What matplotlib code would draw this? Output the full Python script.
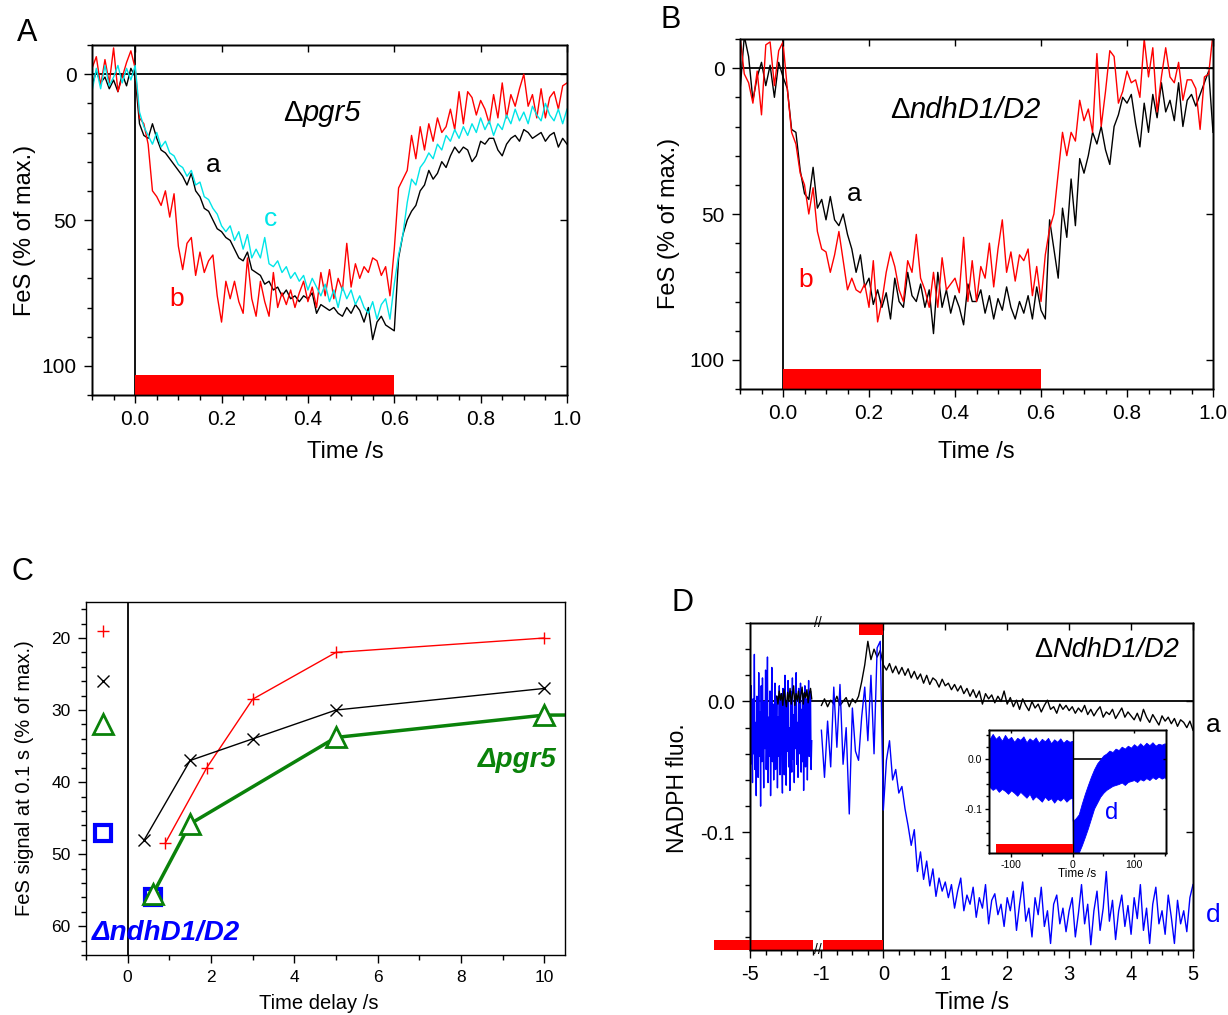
import numpy as np
import matplotlib
matplotlib.use('Agg')
import matplotlib.pyplot as plt
import matplotlib.transforms as mtransforms
from matplotlib.ticker import MultipleLocator, FixedLocator, NullLocator, FormatStrFormatter

plt.rcParams['font.family'] = ['Liberation Sans', 'DejaVu Sans']
plt.rcParams['axes.unicode_minus'] = False
plt.rcParams['axes.linewidth'] = 1.0

# ---------------- A / B : FeS kinetics, 10 ms samples from -0.1 s to 1.0 s
t_fes = np.round(np.linspace(-0.1, 1.0, 111), 2)

pgr5_a = [4, -1, 3, 1, 5, 2, 6, 0, 4, -2,
          1, 17, 21, 22, 17, 22, 26, 27, 29, 31,
          33, 35, 38, 34, 40, 42, 46, 47, 50, 53,
          54, 56, 57, 60, 63, 64, 61, 67, 68, 69,
          72, 71, 74, 73, 76, 74, 77, 76, 78, 76,
          77, 75, 82, 79, 80, 81, 80, 82, 83, 80,
          82, 79, 81, 85, 80, 91, 85, 83, 86, 87,
          88, 63, 55, 50, 47, 45, 40, 38, 33, 36,
          34, 30, 32, 28, 25, 27, 25, 26, 30, 28,
          23, 24, 22, 22, 26, 28, 24, 22, 21, 23,
          19, 20, 22, 21, 20, 23, 21, 20, 25, 22,
          24]
pgr5_b = [-2, -6, 4, -5, 3, -9, 6, 1, -4, -8,
          -2, 15, 17, 24, 40, 42, 45, 40, 49, 41,
          59, 67, 58, 56, 69, 61, 68, 64, 62, 76,
          85, 71, 77, 71, 78, 82, 63, 77, 83, 71,
          78, 83, 68, 80, 75, 79, 74, 80, 75, 71,
          78, 73, 80, 68, 76, 67, 77, 70, 74, 58,
          73, 65, 70, 66, 68, 63, 64, 69, 66, 76,
          60, 39, 36, 33, 21, 29, 18, 26, 17, 23,
          15, 20, 18, 12, 19, 6, 17, 6, 8, 14,
          9, 12, 17, 7, 15, 3, 15, 7, 11, 5,
          0, 11, 7, 15, 5, 15, 8, 6, 12, 4,
          3]
pgr5_c = [6, -2, 5, -3, 4, 1, -3, 3, -2, 2,
          -3, 13, 18, 21, 24, 20, 25, 23, 27, 28,
          31, 32, 35, 33, 38, 37, 42, 43, 46, 48,
          52, 54, 52, 57, 54, 60, 55, 63, 60, 63,
          56, 65, 66, 64, 68, 66, 70, 68, 71, 69,
          74, 70, 73, 76, 72, 78, 74, 80, 73, 77,
          74, 79, 76, 80, 82, 78, 84, 79, 77, 84,
          72, 62, 55, 44, 36, 38, 32, 30, 27, 29,
          24, 26, 21, 23, 19, 22, 18, 21, 17, 20,
          15, 19, 16, 21, 17, 19, 14, 17, 12, 16,
          13, 17, 11, 14, 16, 10, 14, 16, 12, 17,
          12]
ndh_a = [8, -11, -4, 11, 3, -2, 6, -1, 10, -2,
         3, 7, 21, 22, 35, 43, 45, 34, 48, 45,
         52, 44, 52, 54, 50, 57, 62, 70, 64, 75,
         72, 81, 76, 82, 77, 86, 72, 80, 82, 70,
         78, 80, 74, 82, 76, 91, 70, 82, 76, 84,
         78, 82, 88, 74, 80, 80, 76, 84, 78, 86,
         79, 83, 75, 82, 86, 80, 84, 78, 86, 75,
         83, 86, 52, 62, 72, 48, 58, 38, 54, 31,
         36, 30, 22, 26, 20, 28, 33, 20, 16, 10,
         12, 9, 19, 27, 12, 22, 9, 17, 5, 15,
         11, 18, 5, 20, 11, 9, 13, 9, 5, 1,
         22]
ndh_b = [-11, 2, 5, 12, 1, 16, -8, -9, 6, -6,
         -9, 7, 22, 26, 36, 40, 50, 41, 56, 62,
         63, 70, 64, 56, 66, 76, 72, 76, 77, 74,
         82, 66, 87, 80, 70, 63, 68, 76, 80, 66,
         70, 57, 72, 76, 82, 70, 82, 65, 76, 74,
         72, 77, 58, 80, 66, 80, 68, 72, 60, 75,
         62, 52, 70, 63, 73, 64, 66, 62, 78, 68,
         80, 64, 55, 50, 36, 22, 30, 22, 25, 11,
         18, 14, 22, -5, 20, 8, -6, -4, 12, 8,
         1, 5, 4, 10, -10, 3, -7, 15, 3, -7,
         3, 5, -2, 11, 4, 4, 7, 21, 3, 2,
         -12]
light_fes = (0.0, 0.6)
bar_fes = (103, 110)

# ---------------- C : FeS at 0.1 s vs. dark delay
delay_red = [0.9, 1.9, 3, 5, 10]
fes_red = [48.5, 38, 28.5, 22, 20]
delay_black = [0.4, 1.5, 3, 5, 10]
fes_black = [48, 37, 34, 30, 27]
delay_green = [0.6, 1.5, 5, 10, 20]
fes_green = [55.6, 45.8, 33.8, 30.7, 30.5]
delay_blue = [0.6]
fes_blue = [56]
dark_x = -0.6
dark_red, dark_black, dark_green, dark_blue = 19, 26, 32, 47

# ---------------- D : NADPH fluorescence
tL_d = np.linspace(-5.0, -1.08, 100)
nadph_d_left = [-0.010, -0.048, 0.012, -0.030, -0.062, 0.002, -0.040, 0.036, -0.052, -0.016,
                -0.072, 0.004, -0.028, -0.058, 0.022, -0.042, -0.008, -0.080, 0.012, -0.046,
                0.018, -0.026, -0.066, 0.000, -0.036, 0.024, -0.052, -0.020, 0.034, -0.062,
                -0.012, -0.042, 0.008, -0.072, -0.022, 0.026, -0.046, -0.002, -0.060, -0.016,
                0.014, -0.052, -0.026, 0.004, -0.066, -0.012, -0.042, 0.012, -0.056, -0.032,
                0.006, -0.044, -0.070, 0.010, -0.034, -0.056, 0.020, -0.024, -0.064, -0.004,
                -0.038, 0.016, -0.050, -0.020, -0.068, 0.008, -0.030, -0.054, 0.018, -0.044,
                -0.010, -0.062, 0.004, -0.036, 0.022, -0.048, -0.016, -0.058, 0.010, -0.040,
                -0.024, 0.014, -0.054, -0.006, -0.046, 0.006, -0.068, -0.018, 0.012, -0.050,
                -0.028, 0.002, -0.060, -0.014, 0.016, -0.042, -0.022, 0.008, -0.052, -0.030]
tL_a = np.linspace(-3.3, -1.08, 30)
nadph_a_left = [0.004, -0.002, 0.008, 0.001, 0.006, -0.003, 0.009, 0.002, -0.004, 0.007,
                0.000, 0.010, -0.002, 0.005, 0.012, -0.003, 0.006, 0.001, 0.008, -0.001,
                0.005, 0.011, -0.002, 0.007, 0.003, 0.009, -0.001, 0.006, 0.010, 0.002]
tR = np.round(np.linspace(-1.0, 5.0, 121), 2)
nadph_a = [-0.003, 0.002, -0.004, 0.001, -0.002, 0.004, -0.003, 0.000, 0.003, -0.004, 0.002, -0.001,
           0.004, 0.015, 0.028, 0.046, 0.032, 0.040, 0.034, 0.039,
           0.028,
           0.024, 0.029, 0.022, 0.027, 0.021, 0.026, 0.020, 0.025, 0.018, 0.023,
           0.017, 0.021, 0.014, 0.020, 0.013, 0.018, 0.016, 0.011, 0.017, 0.012,
           0.014, 0.009, 0.013, 0.008, 0.012, 0.006, 0.010, 0.004, 0.009, 0.003,
           0.008, -0.002, 0.006, 0.002, 0.005, -0.001, 0.004, 0.000, 0.008, -0.002,
           0.003, -0.004, 0.001, -0.006, 0.002, -0.003, -0.007, 0.000, -0.005, -0.002,
           -0.008, -0.003, 0.001, -0.006, -0.004, -0.009, -0.002, -0.006, -0.003, -0.007,
           -0.004, -0.009, -0.005, -0.008, -0.003, -0.010, -0.006, -0.011, -0.007, -0.004,
           -0.012, -0.008, -0.010, -0.006, -0.013, -0.009, -0.005, -0.012, -0.008, -0.011,
           -0.014, -0.009, -0.015, -0.006, -0.012, -0.016, -0.010, -0.014, -0.018, -0.011,
           -0.015, -0.012, -0.017, -0.013, -0.019, -0.014, -0.016, -0.020, -0.015, -0.022]
nadph_d = [-0.022, -0.058, -0.015, -0.050, 0.011, -0.035, 0.013, -0.048, -0.020, -0.086, -0.005, -0.038,
           -0.045, -0.012, 0.011, -0.030, 0.020, -0.040, 0.041, 0.046,
           -0.083,
           -0.045, -0.030, -0.060, -0.052, -0.070, -0.065, -0.082, -0.095, -0.110, -0.098,
           -0.130, -0.115, -0.136, -0.122, -0.141, -0.128, -0.149, -0.135, -0.145, -0.138,
           -0.150, -0.140, -0.158, -0.145, -0.135, -0.160, -0.148, -0.155, -0.142, -0.165,
           -0.150, -0.158, -0.140, -0.170, -0.152, -0.147, -0.163, -0.155, -0.172, -0.150,
           -0.160, -0.145, -0.175, -0.155, -0.138, -0.168, -0.158, -0.180, -0.150, -0.163,
           -0.142, -0.172, -0.160, -0.185, -0.155, -0.148, -0.170, -0.158, -0.176, -0.160,
           -0.150, -0.180, -0.162, -0.140, -0.170, -0.155, -0.186, -0.160, -0.145, -0.175,
           -0.158, -0.130, -0.168, -0.152, -0.182, -0.160, -0.148, -0.172, -0.156, -0.178,
           -0.150, -0.166, -0.140, -0.175, -0.158, -0.185, -0.155, -0.142, -0.170, -0.160,
           -0.178, -0.148, -0.165, -0.185, -0.152, -0.170, -0.160, -0.176, -0.150, -0.140]
dark_bars_d = [(-7.3, -1.001), (-0.97, 0.0)]
light_bar_d = (-0.4, 0.0)

# inset: long record, drawn as the min/max envelope of the trace
t_long = [-136] + list(range(-130, 0, 5)) + [-0.3, 0.3] + list(range(5, 151, 5)) + [152]
d_long_hi = [0.040, 0.052, 0.042, 0.048, 0.038, 0.050, 0.041, 0.046, 0.036, 0.044,
             0.040, 0.047, 0.035, 0.043, 0.038, 0.045, 0.034, 0.042, 0.037, 0.044,
             0.033, 0.041, 0.036, 0.043, 0.034, 0.040, 0.036, 0.038,
             -0.125, -0.120, -0.112, -0.090, -0.070, -0.052, -0.035, -0.020, -0.008, 0.000,
             0.008, 0.012, 0.018, 0.015, 0.022, 0.019, 0.026, 0.022, 0.028, 0.024,
             0.031, 0.026, 0.033, 0.027, 0.034, 0.029, 0.035, 0.028, 0.032, 0.030,
             0.033, 0.026]
d_long_lo = [-0.055, -0.062, -0.058, -0.066, -0.060, -0.064, -0.070, -0.063, -0.068, -0.074,
             -0.066, -0.072, -0.078, -0.070, -0.082, -0.075, -0.080, -0.086, -0.076, -0.083,
             -0.079, -0.088, -0.080, -0.084, -0.078, -0.086, -0.080, -0.078,
             -0.185, -0.192, -0.190, -0.175, -0.158, -0.140, -0.120, -0.100, -0.088, -0.076,
             -0.068, -0.062, -0.058, -0.054, -0.052, -0.050, -0.047, -0.052, -0.046, -0.044,
             -0.042, -0.046, -0.040, -0.043, -0.038, -0.042, -0.036, -0.040, -0.035, -0.039,
             -0.036, -0.040]
light_bar_long = (-124, 0)

RED = '#ff0000'
CYAN = '#00e5e8'
BLUE = '#0000ff'
GREEN = '#0a820a'

fig = plt.figure(figsize=(12.28, 10.15), dpi=100)
W, H = 1228, 1015


def px_axes(l, t, r, b):
    return fig.add_axes([l / W, 1 - b / H, (r - l) / W, (b - t) / H])


def style(ax, size, pad=5, major=6, minor=3.5):
    ax.tick_params(which='major', direction='out', length=major, width=1, pad=pad, labelsize=size)
    ax.tick_params(which='minor', direction='out', length=minor, width=1)


def mirror(ax, xt, yt, length=5, scale=None):
    top = ax.twiny()
    if scale is not None:
        top.set_xscale('function', functions=scale)
    top.set_xlim(ax.get_xlim())
    top.xaxis.set_major_locator(FixedLocator(xt))
    top.xaxis.set_minor_locator(NullLocator())
    top.tick_params(axis='x', direction='in', length=length, width=1, labeltop=False)
    right = ax.twinx()
    right.set_ylim(ax.get_ylim())
    right.yaxis.set_major_locator(FixedLocator(yt))
    right.yaxis.set_minor_locator(NullLocator())
    right.tick_params(axis='y', direction='in', length=length, width=1, labelright=False)


def labels(ax, xl, xpos, yl, ypos, size):
    ax.set_xlabel(xl, fontsize=size)
    ax.set_ylabel(yl, fontsize=size)
    ax.xaxis.set_label_coords(*xpos)
    ax.yaxis.set_label_coords(*ypos)
    ax.xaxis.label.set_va('center')
    ax.yaxis.label.set_va('center')


def delta_text(ax, x, y, rest, size):
    # upright delta followed by the italic strain name, on a common baseline
    d = ax.text(x, y, '\u0394', fontsize=size, ha='left', va='baseline')
    ax.annotate(rest, xy=(1, 0), xycoords=d, fontsize=size, fontstyle='italic',
                ha='left', va='bottom')


def fes_panel(ax, traces):
    for y, c in traces:
        ax.plot(t_fes, y, color=c, lw=1.0)
    ax.axhline(0, color='black', lw=1.3, zorder=1)
    ax.axvline(0, color='black', lw=1.3, zorder=1)
    ax.bar(light_fes[0], bar_fes[1] - bar_fes[0], width=light_fes[1] - light_fes[0],
           bottom=bar_fes[0], align='edge', color=RED, lw=0, zorder=3)
    ax.set_xlim(-0.1, 1.0)
    ax.set_ylim(110, -10)
    ax.set_xticks([0, 0.2, 0.4, 0.6, 0.8, 1.0])
    ax.xaxis.set_major_formatter(FormatStrFormatter('%.1f'))
    ax.xaxis.set_minor_locator(MultipleLocator(0.05))
    ax.set_yticks([0, 50, 100])
    ax.yaxis.set_minor_locator(MultipleLocator(10))
    style(ax, 15)
    mirror(ax, [0, 0.2, 0.4, 0.6, 0.8, 1.0], [0, 50, 100])


# ---- A
axA = px_axes(92, 45, 567, 395)
fes_panel(axA, [(pgr5_a, 'black'), (pgr5_b, RED), (pgr5_c, CYAN)])
delta_text(axA, 0.343, 16.2, 'pgr5', 21)
axA.text(0.181, 31, 'a', fontsize=19, color='black', ha='center', va='center')
axA.text(0.313, 49.5, 'c', fontsize=19, color=CYAN, ha='center', va='center')
axA.text(0.097, 77, 'b', fontsize=19, color=RED, ha='center', va='center')
labels(axA, 'Time /s', (0.533, -0.162), 'FeS (% of max.)', (-0.141, 0.47), 17)

# ---- B
axB = px_axes(740, 39, 1213, 389)
fes_panel(axB, [(ndh_a, 'black'), (ndh_b, RED)])
delta_text(axB, 0.25, 17.1, 'ndhD1/D2', 21)
axB.text(0.166, 43, 'a', fontsize=19, color='black', ha='center', va='center')
axB.text(0.052, 72.5, 'b', fontsize=19, color=RED, ha='center', va='center')
labels(axB, 'Time /s', (0.5, -0.179), 'FeS (% of max.)', (-0.150, 0.473), 17)

# ---- C
axC = px_axes(86, 602, 565, 955)
axC.axvline(0, color='black', lw=1.3, zorder=1)
axC.plot(delay_blue, fes_blue, ls='none', marker='s', ms=12, mfc='none', mec=BLUE, mew=3)
axC.plot(delay_red, fes_red, color=RED, lw=1, marker='+', ms=9, mew=1)
axC.plot(delay_black, fes_black, color='black', lw=1, marker='x', ms=8, mew=1)
axC.plot(delay_green, fes_green, color=GREEN, lw=2.5, marker='^', ms=14, mfc='white', mec=GREEN, mew=2)
axC.plot([dark_x], [dark_red], ls='none', marker='+', ms=9, mew=1, color=RED)
axC.plot([dark_x], [dark_black], ls='none', marker='x', ms=8, mew=1, color='black')
axC.plot([dark_x], [dark_green], ls='none', marker='^', ms=14, mfc='white', mec=GREEN, mew=2)
axC.plot([dark_x], [dark_blue], ls='none', marker='s', ms=12, mfc='none', mec=BLUE, mew=3)
axC.set_xlim(-1, 10.5)
axC.set_ylim(64, 15)
axC.set_xticks([0, 2, 4, 6, 8, 10])
axC.xaxis.set_minor_locator(MultipleLocator(1))
axC.set_yticks([20, 30, 40, 50, 60])
axC.yaxis.set_minor_locator(MultipleLocator(2))
style(axC, 12.5)
axC.text(10.3, 36.9, '\u0394pgr5', fontsize=20, color=GREEN, fontweight='bold',
         fontstyle='italic', ha='right', va='center')
axC.text(-0.85, 61, '\u0394ndhD1/D2', fontsize=20, color=BLUE, fontweight='bold',
         fontstyle='italic', ha='left', va='center')
labels(axC, 'Time delay /s', (0.486, -0.136), 'FeS signal at 0.1 s (% of max.)', (-0.129, 0.5), 14.5)

# ---- D : broken time axis (-5..-1 compressed, then linear)
GAP, K = 0.1356, 0.2543


def fwd(t):
    t = np.asarray(t, dtype=float)
    return np.where(t >= -1, t, -1 - GAP + (t + 1) * K)


def inv(u):
    u = np.asarray(u, dtype=float)
    return np.where(u >= -1, u, np.where(u <= -1 - GAP, (u + 1 + GAP) / K - 1, -1.0))


axD = px_axes(750, 623, 1193, 950)
axD.set_xscale('function', functions=(fwd, inv))
axD.axhline(0, color='black', lw=1.3, zorder=1)
axD.axvline(0, color='black', lw=1.3, zorder=1)
axD.plot(tL_d, nadph_d_left, color=BLUE, lw=1.0)
axD.plot(tL_a, nadph_a_left, color='black', lw=1.0)
axD.plot(tR, nadph_a, color='black', lw=1.0)
axD.plot(tR, nadph_d, color=BLUE, lw=1.0)
for x0, x1 in dark_bars_d:
    axD.bar(x0, 0.008, width=x1 - x0, bottom=-0.19, align='edge', color=RED, lw=0,
            clip_on=False, zorder=3)
axD.bar(light_bar_d[0], 0.0088, width=light_bar_d[1] - light_bar_d[0], bottom=0.0508,
        align='edge', color=RED, lw=0, zorder=3)
axD.set_xlim(-5, 5)
axD.set_ylim(-0.19, 0.06)
axD.set_xticks([-5, -1, 0, 1, 2, 3, 4, 5])
axD.set_xticklabels(['-5', '-1', '0', '1', '2', '3', '4', '5'])
minD = [-4, -3, -2, -1.001] + [v for v in np.arange(-0.75, 5.0, 0.25) if v % 1 != 0]
axD.xaxis.set_minor_locator(FixedLocator(minD))
axD.set_yticks([-0.1, 0.0])
axD.yaxis.set_major_formatter(FormatStrFormatter('%.1f'))
axD.yaxis.set_minor_locator(MultipleLocator(0.02))
style(axD, 14.5)
mirror(axD, [0, 1, 2, 3, 4, 5], [0.0, -0.1], scale=(fwd, inv))
brk = mtransforms.offset_copy(axD.get_xaxis_transform(), fig=fig, x=-4, y=0, units='dots')
for yy in (0.0, 1.0):
    axD.text(-1.0, yy, '//', transform=brk, ha='center', va='center', fontsize=10, clip_on=False)
delta_text(axD, 2.44, 0.0343, 'NdhD1/D2', 19.5)
axD.text(5.33, -0.018, 'a', fontsize=19, color='black', ha='center', va='center')
axD.text(5.33, -0.163, 'd', fontsize=19, color=BLUE, ha='center', va='center')
labels(axD, 'Time /s', (0.501, -0.162), 'NADPH fluo.', (-0.163, 0.495), 16.5)

# ---- D inset
axI = px_axes(989, 730, 1166, 852.7)
axI.hlines(0, 0, t_long[-1], color='black', lw=1.2, zorder=1)
axI.fill_between(t_long, d_long_lo, d_long_hi, color=BLUE, lw=0.6, zorder=2)
axI.axvline(0, color='black', lw=1.0, zorder=3)
axI.bar(light_bar_long[0], 0.018, width=light_bar_long[1] - light_bar_long[0], bottom=-0.19,
        align='edge', color=RED, lw=0, zorder=4)
axI.set_xlim(-136, 152)
axI.set_ylim(-0.19, 0.06)
axI.set_xticks([-100, 0, 100])
axI.xaxis.set_minor_locator(MultipleLocator(50))
axI.set_yticks([-0.1, 0.0])
axI.yaxis.set_major_formatter(FormatStrFormatter('%.1f'))
axI.yaxis.set_minor_locator(MultipleLocator(0.025))
style(axI, 7.5, pad=2, major=3, minor=2)
mirror(axI, [-100, 0, 100], [0.0, -0.1], length=2.5)
axI.text(64, -0.109, 'd', fontsize=17, color=BLUE, ha='center', va='center')
labels(axI, 'Time /s', (0.495, -0.174), '', (-0.1, 0.5), 8.5)

# panel letters
for letter, x, y in [('A', 27, 33), ('B', 671, 20), ('C', 22, 572), ('D', 682, 603)]:
    fig.text(x / W, 1 - y / H, letter, fontsize=22, ha='center', va='center')

fig.savefig('out.png', dpi=100)
